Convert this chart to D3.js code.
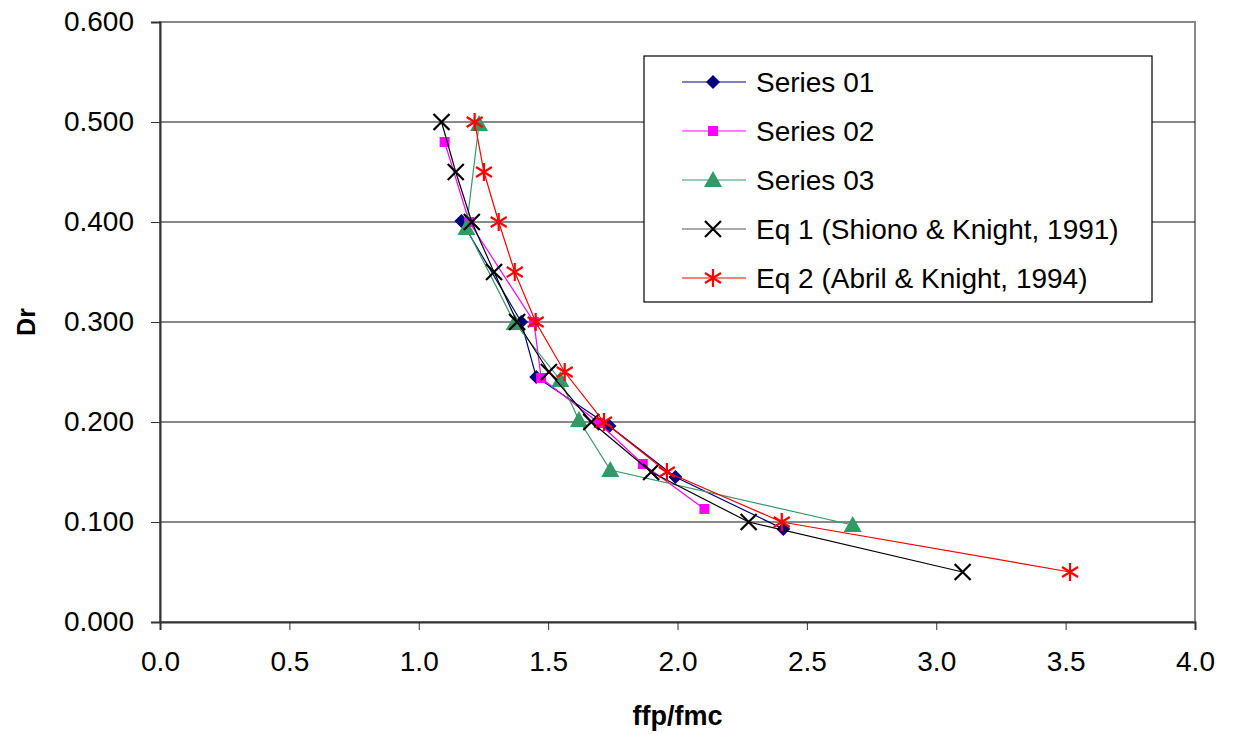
<!DOCTYPE html>
<html>
<head>
<meta charset="utf-8">
<script src="https://cdn.jsdelivr.net/npm/d3@7"></script>
<style>
  body { margin: 0; background: #fff; }
  text { font-family: "Liberation Sans", Arial, sans-serif; }
</style>
</head>
<body>
<div id="chart"></div>
<script>
// data
var s1_x = [1.165, 1.396, 1.454, 1.737, 1.992, 2.409],
    s1_y = [0.401, 0.300, 0.245, 0.196, 0.145, 0.093];
var s2_x = [1.100, 1.195, 1.445, 1.473, 1.696, 1.866, 2.104],
    s2_y = [0.480, 0.400, 0.300, 0.244, 0.199, 0.158, 0.113];
var s3_x = [1.233, 1.184, 1.371, 1.547, 1.619, 1.740, 2.677],
    s3_y = [0.498, 0.394, 0.299, 0.242, 0.202, 0.152, 0.097];
var eq1_x = [1.088, 1.143, 1.205, 1.291, 1.380, 1.503, 1.667, 1.898, 2.275, 3.102],
    eq1_y = [0.500, 0.450, 0.400, 0.350, 0.300, 0.250, 0.200, 0.150, 0.100, 0.050];
var eq2_x = [1.216, 1.252, 1.309, 1.371, 1.452, 1.564, 1.716, 1.959, 2.403, 3.517],
    eq2_y = [0.500, 0.450, 0.400, 0.350, 0.300, 0.250, 0.200, 0.150, 0.100, 0.050];

var names = ["Series 01", "Series 02", "Series 03", "Eq 1 (Shiono & Knight, 1991)", "Eq 2 (Abril & Knight, 1994)"];
var colors = ["#000080", "#ff00ff", "#339966", "#000000", "#ff0000"];
var shapes = ["diamond", "square", "triangle", "x", "star"];
var xTicks = [0, 0.5, 1, 1.5, 2, 2.5, 3, 3.5, 4];
var yTicks = [0, 0.1, 0.2, 0.3, 0.4, 0.5, 0.6];

var series = [[s1_x, s1_y], [s2_x, s2_y], [s3_x, s3_y], [eq1_x, eq1_y], [eq2_x, eq2_y]].map(function(p, i) {
  return {
    name: names[i], color: colors[i], shape: shapes[i],
    pts: p[0].map(function(x, j) { return [x, p[1][j]]; })
  };
});

var margin = {top: 22, right: 44, bottom: 112, left: 160},
    width = 1239 - margin.left - margin.right,
    height = 734 - margin.top - margin.bottom;

var svg = d3.select("#chart")
  .append("svg")
    .attr("width", 1239)
    .attr("height", 734)
  .append("g")
    .attr("transform", "translate(" + margin.left + "," + margin.top + ")");

var x = d3.scaleLinear().domain([0, 4]).range([0, width]);
var y = d3.scaleLinear().domain([0, 0.6]).range([height, 0]);

// plot frame (gray) and gridlines
svg.append("rect")
  .attr("width", width).attr("height", height)
  .attr("fill", "none").attr("stroke", "#888").attr("stroke-width", 2);

svg.selectAll(".grid")
  .data(yTicks.filter(function(d) { return d > 0 && d < 0.6; }))
  .enter().append("line")
    .attr("x1", 0).attr("x2", width)
    .attr("y1", function(d) { return y(d); })
    .attr("y2", function(d) { return y(d); })
    .attr("stroke", "#111").attr("stroke-width", 1);

var xAxis = svg.append("g")
  .attr("transform", "translate(0," + height + ")")
  .call(d3.axisBottom(x).tickValues(xTicks).tickSize(8).tickPadding(21)
    .tickFormat(d3.format(".1f")));

var yAxis = svg.append("g")
  .call(d3.axisLeft(y).tickValues(yTicks).tickSize(9).tickPadding(17)
    .tickFormat(d3.format(".3f")));

[xAxis, yAxis].forEach(function(a) {
  a.select(".domain").attr("stroke", "#333").attr("stroke-width", 2);
  a.selectAll(".tick line").attr("stroke", "#333");
  a.selectAll("text").attr("font-size", 28).attr("fill", "#000")
    .style("font-family", "'Liberation Sans', Arial, sans-serif");
});

svg.append("text")
  .attr("x", width / 2).attr("y", height + 103)
  .attr("text-anchor", "middle")
  .attr("font-size", 27).attr("font-weight", "bold")
  .text("ffp/fmc");

svg.append("text")
  .attr("transform", "translate(" + (-125) + "," + (height / 2) + ") rotate(-90)")
  .attr("text-anchor", "middle")
  .attr("font-size", 25).attr("font-weight", "bold")
  .text("Dr");

function marker(g, shape, color) {
  if (shape == "diamond") {
    g.append("path").attr("d", "M0,-7L7,0L0,7L-7,0Z").attr("fill", color);
  } else if (shape == "square") {
    g.append("rect").attr("x", -5).attr("y", -5).attr("width", 10).attr("height", 10).attr("fill", color);
  } else if (shape == "triangle") {
    g.append("path").attr("d", "M0,-9L9,7L-9,7Z").attr("fill", color);
  } else if (shape == "x") {
    g.append("path").attr("d", "M-8,-8L8,8M-8,8L8,-8").attr("stroke", color).attr("stroke-width", 2.2);
  } else {
    g.append("path").attr("d", "M0,-9V9M-8,-5L8,5M-8,5L8,-5").attr("stroke", color).attr("stroke-width", 2.2);
  }
}

var line = d3.line()
  .x(function(d) { return x(d[0]); })
  .y(function(d) { return y(d[1]); });

series.forEach(function(s) {
  svg.append("path")
    .datum(s.pts)
    .attr("d", line)
    .attr("fill", "none")
    .attr("stroke", s.color)
    .attr("stroke-width", 1.2);
  svg.selectAll(null)
    .data(s.pts)
    .enter().append("g")
      .attr("transform", function(d) { return "translate(" + x(d[0]) + "," + y(d[1]) + ")"; })
      .each(function() { marker(d3.select(this), s.shape, s.color); });
});

// legend
var legend = svg.append("g")
  .attr("transform", "translate(" + (644 - margin.left) + "," + (56 - margin.top) + ")");

legend.append("rect")
  .attr("width", 508).attr("height", 246)
  .attr("fill", "#fff").attr("stroke", "#000").attr("stroke-width", 1.2);

series.forEach(function(s, i) {
  var row = legend.append("g").attr("transform", "translate(0," + (26 + i * 49) + ")");
  row.append("line")
    .attr("x1", 38).attr("x2", 102)
    .attr("stroke", i == 3 ? "#555" : s.color).attr("stroke-width", 1.2);
  marker(row.append("g").attr("transform", "translate(69,0)"), s.shape, s.color);
  row.append("text")
    .attr("x", 112).attr("y", 10)
    .attr("font-size", 28)
    .text(s.name);
});
</script>
</body>
</html>
